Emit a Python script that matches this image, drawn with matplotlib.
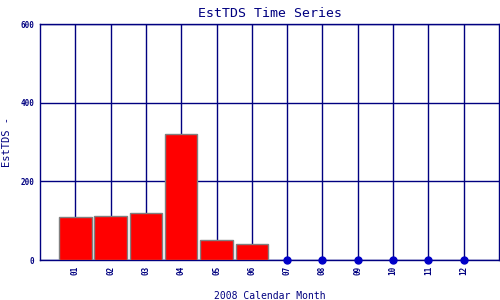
import numpy as np
import matplotlib
matplotlib.use('Agg')
import matplotlib.pyplot as plt

# monthly EstTDS, None where there's no sample
months = ['01', '02', '03', '04', '05', '06', '07', '08', '09', '10', '11', '12']
est_tds = [109, 111, 119, 320, 51, 40, None, None, None, None, None, None]
y_ticks = [0, 200, 400, 600]

navy = '#000080'
mono = 'DejaVu Sans Mono'

fig = plt.figure(figsize=(5, 3), dpi=100)
ax = fig.add_axes([40 / 500, 40 / 300, 459 / 500, 236 / 300])

x = np.arange(1, len(months) + 1)
have = [i for i, v in enumerate(est_tds) if v is not None]
missing = [i for i, v in enumerate(est_tds) if v is None]

ax.bar(x[have], [est_tds[i] for i in have], width=0.92, color='red',
       edgecolor='#808080', linewidth=1, zorder=3)
ax.plot(x[missing], [0] * len(missing), 'o', color='#0000c8', markersize=5,
        zorder=4, clip_on=False)

ax.set_xlim(0, 13)
ax.set_ylim(0, 600)
ax.set_xticks(x)
ax.set_xticklabels(months, rotation=90, fontsize=5.5, family=mono,
                   fontweight='bold', color=navy)
ax.set_yticks(y_ticks)
ax.set_yticklabels([str(t) for t in y_ticks], fontsize=5.5, family=mono,
                   fontweight='bold', color=navy)
ax.tick_params(length=0, pad=4)
ax.grid(True, color=navy, linewidth=1, zorder=0)
ax.set_axisbelow(True)
for side in ax.spines.values():
    side.set_color(navy)
    side.set_linewidth(1)

ax.set_title('EstTDS Time Series', family=mono, fontsize=9.5, color=navy, pad=5)
ax.set_xlabel('2008 Calendar Month', family=mono, fontsize=7, color=navy,
              labelpad=12)
ax.set_ylabel('EstTDS -', family=mono, fontsize=7.5, color=navy)
ax.yaxis.set_label_coords(-0.062, 0.5)

fig.savefig('out.png', dpi=100)
